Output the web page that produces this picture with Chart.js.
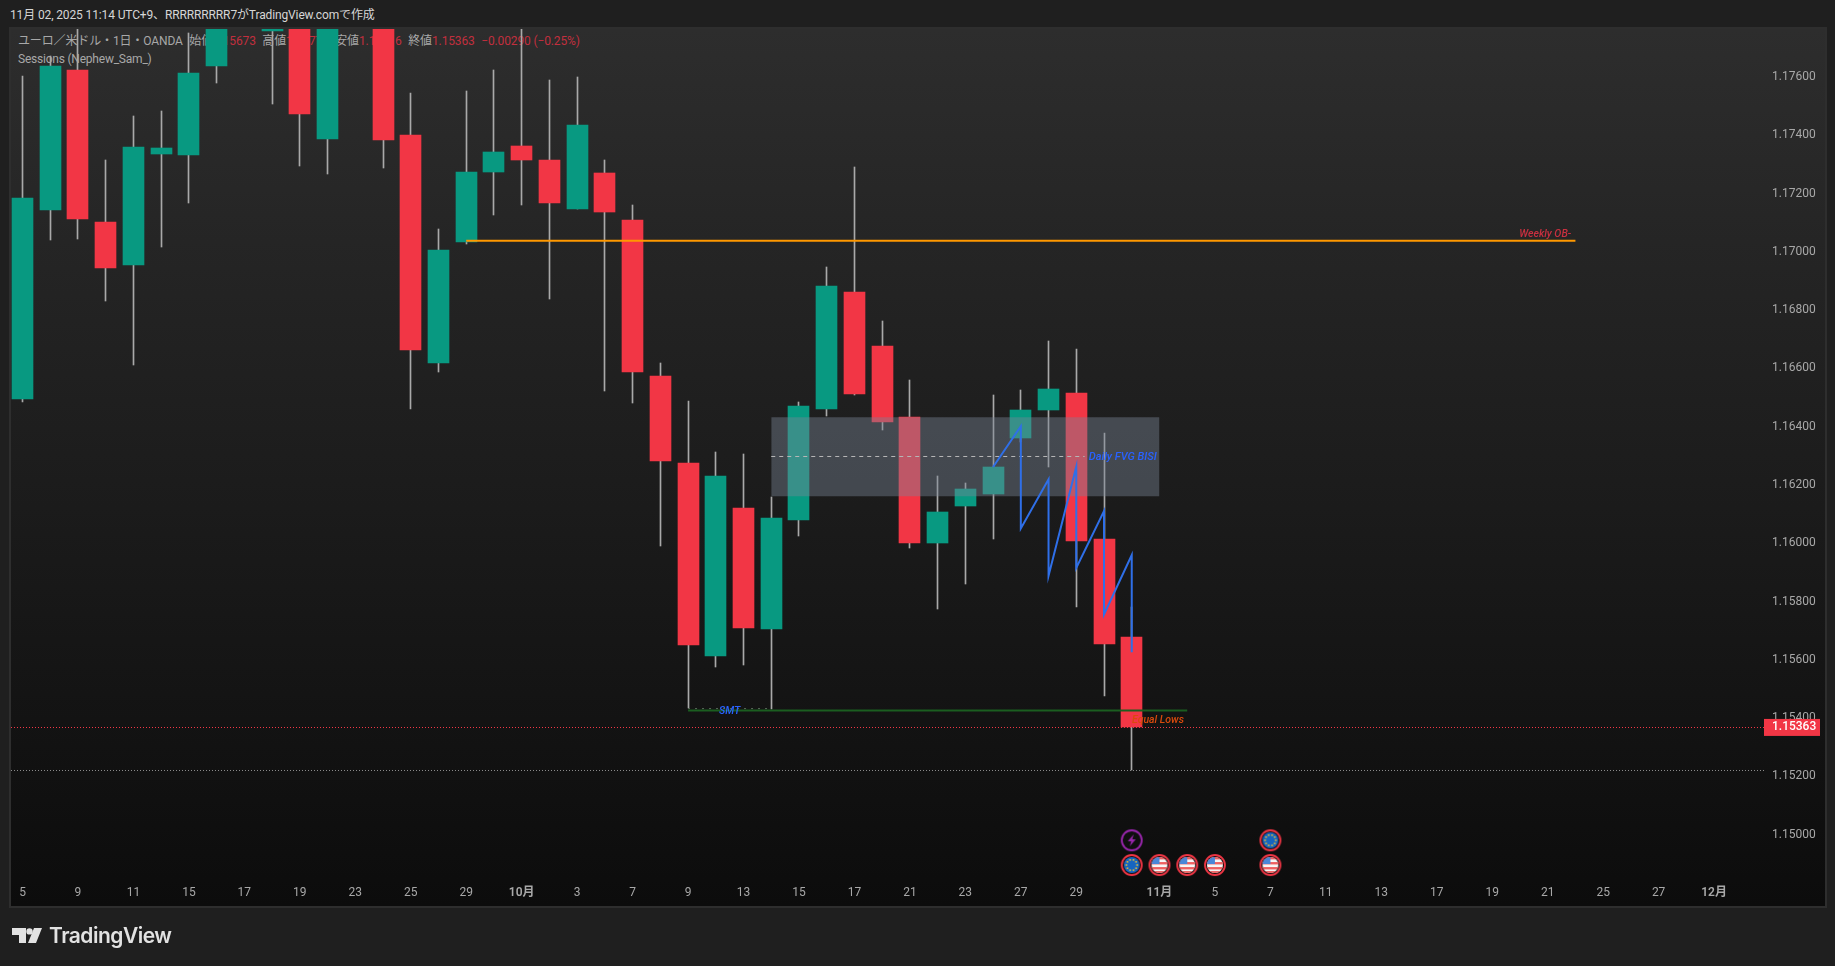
<!DOCTYPE html>
<html lang="ja">
<head>
<meta charset="utf-8">
<title>EUR/USD</title>
<script src="https://cdn.jsdelivr.net/npm/chart.js@4/dist/chart.umd.min.js"></script>
<style>
  html, body { margin: 0; padding: 0; background: #1f1f1f; overflow: hidden; }
  body { width: 1835px; height: 966px; position: relative; font-family: Roboto, "Noto Sans CJK JP", sans-serif; }
  #stamp { position: absolute; left: 10px; top: 6px; font-size: 12px; letter-spacing: -0.13px; line-height: 18px; color: #d6d6d6; white-space: nowrap; }
  #pane { position: absolute; left: 9px; top: 27px; width: 1814px; height: 877px; border: 2px solid #2e2e2e;
          background: linear-gradient(#2d2d2d, #0c0c0c); }
  #legend { position: absolute; left: 18px; top: 33px; font-size: 12px; letter-spacing: -0.13px; line-height: 17.5px; color: #a8a8a8; white-space: nowrap; }
  #legend span.g { margin-right: 6.5px; }
  #legend b { font-weight: 400; color: #c22f3e; }
  #legend .sess { letter-spacing: -0.22px; }
  #chart { position: absolute; left: 0; top: 0; }
  #logo { position: absolute; left: 12px; top: 925px; color: #e2e2e2; font: 600 21px Inter, sans-serif; letter-spacing: -0.5px; white-space: nowrap; }
  #logo svg { position: absolute; left: 0; top: 3px; }
  #logo span { position: absolute; left: 37px; top: -2px; }
</style>
</head>
<body>
<div id="stamp">11月 02, 2025 11:14 UTC+9、RRRRRRRRR7がTradingView.comで作成</div>
<div id="pane"></div>
<div id="legend">
  <div><span class="g">ユーロ／米ドル・1日・OANDA</span><span class="g">始値<b>1.15673</b></span><span class="g">高値<b>1.15776</b></span><span class="g">安値<b>1.15216</b></span><span class="g">終値<b>1.15363</b></span><b>−0.00290 (−0.25%)</b></div>
  <div class="sess">Sessions (Nephew_Sam_)</div>
</div>
<canvas id="chart" width="1835" height="966"></canvas>
<div id="logo">
  <svg width="31" height="15" viewBox="0 0 31 15" fill="#e2e2e2"><path d="M0 0h14v15H7V7H0z"/><circle cx="17.5" cy="3.4" r="3.2"/><path d="M22 0h8l-6 15h-8z"/></svg>
  <span>TradingView</span>
</div>
<script>
// Precios, una vela por barra (bar 0 = 5 sep)
const opens = [1.16488,1.17136,1.17617,1.17095,1.16948,1.17329,1.17325,1.17631,1.17900,1.17750,1.17950,1.17380,1.17950,1.17900,1.17394,1.16612,1.17027,1.17267,1.17356,1.17308,1.17140,1.17263,1.17102,1.16567,1.16268,1.15606,1.16114,1.15699,1.16073,1.16454,1.16855,1.16670,1.16426,1.15994,1.16121,1.16162,1.16354,1.16450,1.16509,1.16008,1.15673];
const closes = [1.17178,1.17631,1.17106,1.16938,1.17353,1.17349,1.17607,1.17790,1.17950,1.17900,1.17466,1.17800,1.17900,1.17377,1.16656,1.16999,1.17267,1.17336,1.17308,1.17161,1.17428,1.17130,1.16581,1.16275,1.15644,1.16224,1.15702,1.16080,1.16464,1.16876,1.16505,1.16409,1.15994,1.16100,1.16179,1.16255,1.16450,1.16522,1.16001,1.15647,1.15363];
const highs = [1.17596,1.17665,1.17806,1.17308,1.17459,1.17476,1.17744,1.17823,1.18200,1.18000,1.18100,1.17900,1.18150,1.18000,1.17538,1.17071,1.17545,1.17617,1.17788,1.17583,1.17593,1.17308,1.17154,1.16612,1.16481,1.16306,1.16299,1.16152,1.16478,1.16941,1.17284,1.16756,1.16553,1.16224,1.16200,1.16502,1.16519,1.16687,1.16660,1.16371,1.15776];
const lows = [1.16479,1.17034,1.17037,1.16825,1.16606,1.17010,1.17162,1.17572,1.17850,1.17500,1.17287,1.17261,1.17850,1.17281,1.16455,1.16581,1.17020,1.17119,1.17154,1.16831,1.17140,1.16517,1.16474,1.15984,1.15428,1.15569,1.15575,1.15424,1.16018,1.16430,1.16502,1.16382,1.15977,1.15768,1.15853,1.16008,1.16340,1.16255,1.15774,1.15469,1.15216];

// Etiquetas de los ejes
const timeTicks = [0,2,4,6,8,10,12,14,16,18,20,22,24,26,28,30,32,34,36,38,41,43,45,47,49,51,53,55,57,59,61];
const timeLabels = ['5','9','11','15','17','19','23','25','29','10月','3','7','9','13','15','17','21','23','27','29','11月','5','7','11','13','17','19','21','25','27','12月'];
const priceTicks = [1.15,1.152,1.154,1.156,1.158,1.16,1.162,1.164,1.166,1.168,1.17,1.172,1.174,1.176];

// Dibujos sobre el grafico
const weeklyOb = [{x:16,y:1.17031},{x:56,y:1.17031}];
const fvgTop = [{x:27,y:1.16426},{x:41,y:1.16426}];
const fvgBottom = 1.16155;
const fvgMid = [{x:27,y:1.16291},{x:38.3,y:1.16291}];
const zigzag = [{x:35,y:1.16255},{x:36,y:1.16395},{x:36,y:1.16044},{x:37,y:1.16213},{x:37,y:1.15882},{x:38,y:1.16256},{x:38,y:1.15909},{x:39,y:1.16104},{x:39,y:1.15749},{x:40,y:1.15953},{x:40,y:1.15619}];
const equalLows = [{x:24,y:1.15419},{x:42,y:1.15419}];
const smtDots = [{x:24,y:1.15426},{x:27,y:1.15426}];
const lastClose = [{x:-0.415,y:1.15361},{x:62.8,y:1.15361}];
const lastLow = [{x:-0.415,y:1.152135},{x:62.8,y:1.152135}];
const usEvents = [{x:41,y:1.14889},{x:42,y:1.14889},{x:43,y:1.14889},{x:45,y:1.14889}];
const euEvents = [{x:40,y:1.14889},{x:45,y:1.14974}];
const boltEvents = [{x:40,y:1.14974}];

const UP = '#089981', DOWN = '#f23645';
const barColors = opens.map((o, i) => closes[i] >= o ? UP : DOWN);

// Iconos de los eventos
function makeIcon(kind) {
    const c = document.createElement('canvas');
    c.width = 24; c.height = 24;
    const g = c.getContext('2d');
    const ring = (color) => { g.beginPath(); g.arc(12, 12, 10, 0, Math.PI * 2); g.lineWidth = 1.8; g.strokeStyle = color; g.stroke(); };
    g.save();
    g.beginPath(); g.arc(12, 12, 8, 0, Math.PI * 2); g.clip();
    if (kind === 'us') {
        g.fillStyle = '#f7f7f7'; g.fillRect(0, 0, 24, 24);
        g.fillStyle = '#ef5f5f';
        for (const y of [4, 9, 14, 18]) g.fillRect(0, y, 24, 2.4);
        g.fillStyle = '#4a86d8'; g.fillRect(0, 0, 12, 11);
    } else if (kind === 'eu') {
        g.fillStyle = '#1565c0'; g.fillRect(0, 0, 24, 24);
        g.fillStyle = '#f2c230';
        for (let a = 0; a < 10; a++) {
            g.fillRect(11.2 + 5.4 * Math.cos(a * Math.PI / 5), 11.2 + 5.4 * Math.sin(a * Math.PI / 5), 1.6, 1.6);
        }
    }
    g.restore();
    if (kind === 'bolt') {
        ring('#9c27b0');
        g.fillStyle = '#9c27b0';
        g.beginPath(); g.moveTo(14, 6); g.lineTo(8, 13); g.lineTo(11.5, 13); g.lineTo(10, 18); g.lineTo(16, 11); g.lineTo(12.5, 11); g.closePath(); g.fill();
    } else {
        ring('#f23645');
    }
    return c;
}

const flatLine = (data, color, width, dash, order) => ({
    type: 'line', data, borderColor: color, borderWidth: width, borderDash: dash,
    pointRadius: 0, fill: false, tension: 0, order
});
const events = (data, kind) => ({
    type: 'scatter', data, pointStyle: makeIcon(kind), pointRadius: 12, order: 0, clip: false
});

// Velas en pixel entero, si no las mechas de 1px salen borrosas
const crispBars = {
    id: 'crispBars',
    beforeDatasetsDraw(chart) {
        [0, 1].forEach((i) => {
            chart.getDatasetMeta(i).data.forEach((el) => {
                el.x = Math.floor(el.x) + 0.5;
                el.y = Math.round(el.y);
                el.base = Math.round(el.base);
            });
        });
    }
};

// Textos dibujados sobre las lineas, y la etiqueta del ultimo precio
const overlayText = {
    id: 'overlayText',
    afterDatasetsDraw(chart) {
        const { ctx, scales: { x, y } } = chart;
        const put = (text, bar, price, color, align, size) => {
            ctx.font = `italic 500 ${size}px Roboto, sans-serif`;
            ctx.fillStyle = color;
            ctx.textAlign = align;
            ctx.textBaseline = 'middle';
            ctx.fillText(text, x.getPixelForValue(bar), y.getPixelForValue(price));
        };
        put('Weekly OB-', 55.85, 1.17053, '#c8303f', 'right', 10.5);
        put('Daily FVG BISI', 40.9, 1.16287, '#2962ff', 'right', 11);
        put('SMT', 25.5, 1.15418, '#2962ff', 'center', 10.5);
        put('Equal Lows', 41.88, 1.15385, '#d84a0c', 'right', 10.5);

        const py = y.getPixelForValue(closes[closes.length - 1]);
        ctx.fillStyle = DOWN;
        ctx.fillRect(x.right, py - 8, 56, 17);
        ctx.font = '500 12px Roboto, sans-serif';
        ctx.fillStyle = '#ffffff';
        ctx.textAlign = 'left';
        ctx.fillText(closes[closes.length - 1].toFixed(5), 1772, py + 0.5);
    }
};

new Chart(document.getElementById('chart'), {
    type: 'bar',
    data: {
        datasets: [
            // mechas y cuerpos en el mismo x, sin agrupar
            {
                data: highs.map((h, i) => ({ x: i, y: [lows[i], h] })),
                backgroundColor: '#a9a9a9', barThickness: 1, grouped: false, order: 6
            },
            {
                data: opens.map((o, i) => ({ x: i, y: [o, closes[i]] })),
                backgroundColor: barColors, barThickness: 21, grouped: false, order: 5
            },
            flatLine(lastClose, DOWN, 1, [1, 2], 4),
            flatLine(lastLow, '#8d8d8d', 1, [1, 2], 4),
            {
                type: 'line', data: fvgTop, borderWidth: 0, pointRadius: 0,
                fill: { value: fvgBottom }, backgroundColor: 'rgba(120,132,148,0.43)', order: 3
            },
            flatLine(fvgMid, '#b8b8b8', 1, [4, 4], 2),
            flatLine(weeklyOb, '#ff9800', 2, [], 2),
            flatLine(smtDots, '#5a6a5a', 1, [2, 5], 2),
            flatLine(equalLows, '#1b5e20', 2, [], 2),
            flatLine(zigzag, '#2f6fe8', 2, [], 1),
            events(usEvents, 'us'),
            events(euEvents, 'eu'),
            events(boltEvents, 'bolt')
        ]
    },
    options: {
        responsive: false,
        animation: false,
        events: [],
        // autoPadding apagado: el radio de los iconos movia el area del grafico
        layout: { autoPadding: false, padding: { left: 11, top: 29, right: 11, bottom: 61 } },
        plugins: { legend: { display: false }, tooltip: { enabled: false } },
        scales: {
            x: {
                type: 'linear', offset: false, min: -0.415, max: 62.8,
                grid: { display: false }, border: { display: false },
                afterBuildTicks: (axis) => { axis.ticks = timeTicks.map(v => ({ value: v })); },
                afterFit: (axis) => { axis.height = 28; axis.paddingLeft = 0; axis.paddingRight = 0; },
                ticks: {
                    autoSkip: false, maxRotation: 0, color: '#a8a8a8', padding: 1,
                    font: (c) => ({
                        family: 'Roboto, "Noto Sans CJK JP", sans-serif', size: 12,
                        weight: c.tick && String(timeLabels[timeTicks.indexOf(c.tick.value)]).includes('月') ? '600' : '400'
                    }),
                    callback: (v) => timeLabels[timeTicks.indexOf(v)]
                }
            },
            y: {
                position: 'right', min: 1.14848, max: 1.17758,
                grid: { display: false }, border: { display: false },
                afterBuildTicks: (axis) => { axis.ticks = priceTicks.map(v => ({ value: v })); },
                afterFit: (axis) => { axis.width = 60; axis.paddingTop = 0; axis.paddingBottom = 0; },
                ticks: {
                    color: '#a8a8a8', padding: 0, labelOffset: 2, font: { family: 'Roboto, sans-serif', size: 12 },
                    callback: (v) => v.toFixed(5)
                }
            }
        }
    },
    plugins: [crispBars, overlayText]
});
</script>
</body>
</html>
